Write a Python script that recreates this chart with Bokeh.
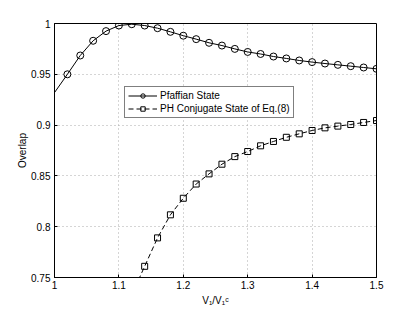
from bokeh.plotting import figure
from bokeh.models import Range1d, FixedTicker, CustomJSTickFormatter, Legend, LegendItem
from bokeh.embed import file_html
from bokeh.resources import INLINE

# Pfaffian state overlap
pf_line_x = [1.00, 1.02, 1.04, 1.06, 1.08, 1.10, 1.12, 1.14, 1.16, 1.18, 1.20, 1.22, 1.24,
             1.26, 1.28, 1.30, 1.32, 1.34, 1.36, 1.38, 1.40, 1.42, 1.44, 1.46, 1.48, 1.50]
pf_line_y = [0.932, 0.950, 0.9685, 0.983, 0.9925, 0.998, 0.9993, 0.998, 0.9954, 0.9918, 0.988,
             0.9846, 0.981, 0.9783, 0.975, 0.972, 0.970, 0.9675, 0.9656, 0.9636, 0.962, 0.9606,
             0.9593, 0.958, 0.9567, 0.9554]
pf_mark_x = pf_line_x[1:]
pf_mark_y = pf_line_y[1:]

# PH conjugate state overlap
ph_line_x = [1.12, 1.14, 1.16, 1.18, 1.20, 1.22, 1.24, 1.26, 1.28, 1.30, 1.32, 1.34, 1.36,
             1.38, 1.40, 1.42, 1.44, 1.46, 1.48, 1.50]
ph_line_y = [0.733, 0.761, 0.789, 0.8117, 0.828, 0.842, 0.852, 0.8615, 0.869, 0.874, 0.8796,
             0.8839, 0.888, 0.8914, 0.8947, 0.8973, 0.899, 0.9006, 0.9026, 0.9045]
ph_mark_x = ph_line_x[1:]
ph_mark_y = ph_line_y[1:]

x_ticks = [1.0, 1.1, 1.2, 1.3, 1.4, 1.5]
y_ticks = [0.75, 0.8, 0.85, 0.9, 0.95, 1.0]

FONT = "Liberation Sans"

p = figure(frame_width=322, frame_height=254, output_backend="svg", toolbar_location=None,
           x_range=Range1d(1.0, 1.5), y_range=Range1d(0.75, 1.0),
           min_border_left=54, min_border_right=28, min_border_top=23, min_border_bottom=4)
p.background_fill_color = "white"
p.border_fill_color = "white"
p.outline_line_color = "black"
p.outline_line_width = 1

l1 = p.line(pf_line_x, pf_line_y, line_color="black", line_width=1)
m1 = p.scatter(pf_mark_x, pf_mark_y, marker="circle", size=7, fill_color=None,
               line_color="black", line_width=1)
l2 = p.line(ph_line_x, ph_line_y, line_color="black", line_width=1, line_dash="5 3")
m2 = p.scatter(ph_mark_x, ph_mark_y, marker="square", size=6, fill_color=None,
               line_color="black", line_width=1)

fmt = CustomJSTickFormatter(code="return String(Number(tick.toFixed(2)));")
for ax, ticks in ((p.xaxis[0], x_ticks), (p.yaxis[0], y_ticks)):
    ax.ticker = FixedTicker(ticks=ticks)
    ax.formatter = fmt
    ax.major_label_text_font = FONT
    ax.major_label_text_font_size = "10px"
    ax.axis_label_text_font = FONT
    ax.axis_label_text_font_size = "10px"
    ax.axis_label_text_font_style = "normal"
    ax.axis_label_text_color = "black"
    ax.major_tick_in = 3
    ax.major_tick_out = 0
    ax.minor_tick_line_color = None
    ax.axis_line_color = "black"
    ax.major_tick_line_color = "black"
    ax.major_label_text_color = "black"

p.xaxis.axis_label = "V₁/V₁ᶜ"
p.yaxis.axis_label = "Overlap"
p.xaxis.major_label_standoff = 3
p.xaxis.axis_label_standoff = 3
p.yaxis.major_label_standoff = 4
p.yaxis.axis_label_standoff = 0

p.grid.grid_line_color = "#aaaaaa"
p.grid.grid_line_dash = "1 3"
p.grid.grid_line_width = 1

legend = Legend(items=[LegendItem(label="Pfaffian State", renderers=[l1, m1]),
                       LegendItem(label="PH Conjugate State of Eq.(8)", renderers=[l2, m2])],
                location=(70, 159))
legend.label_text_font = FONT
legend.label_text_font_size = "10px"
legend.label_text_color = "black"
legend.label_height = 11
legend.glyph_height = 11
legend.glyph_width = 29
legend.label_standoff = 3
legend.spacing = 2
legend.padding = 3
legend.margin = 0
legend.border_line_color = "black"
legend.border_line_width = 1
legend.background_fill_alpha = 1
p.add_layout(legend, "center")

open("out.html", "w").write(file_html(p, INLINE))
